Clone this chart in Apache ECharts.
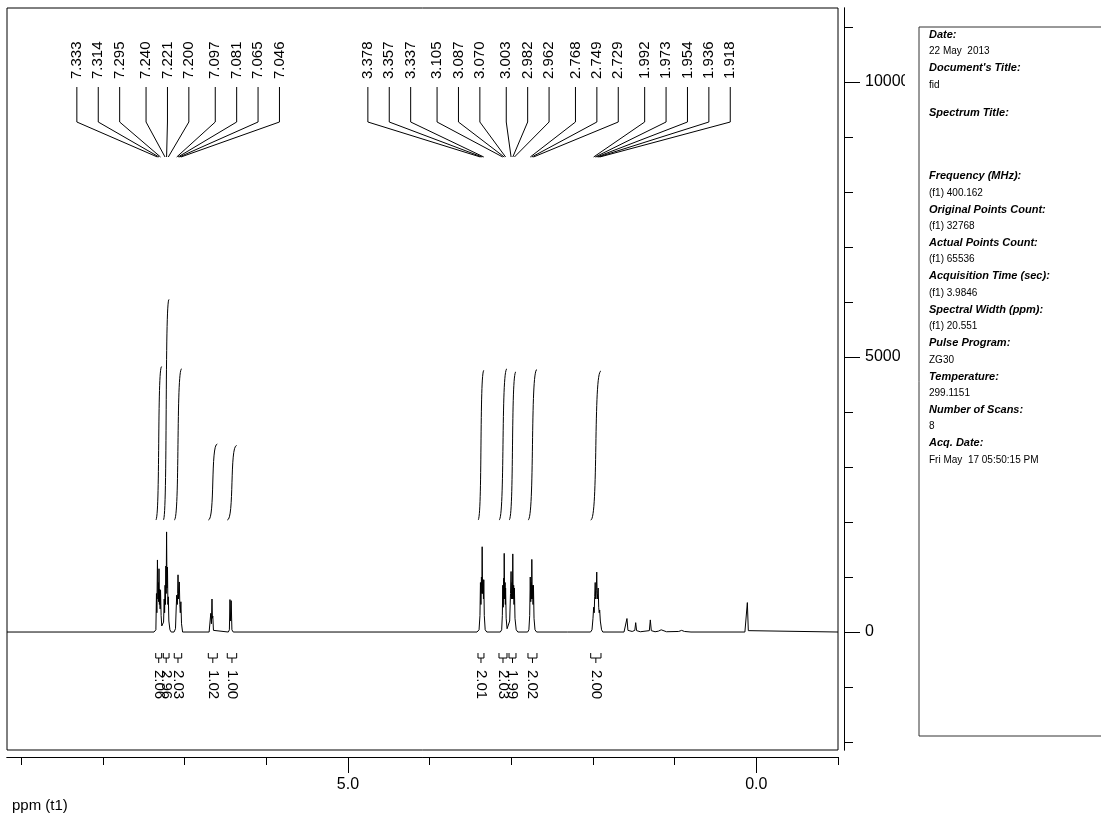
<!DOCTYPE html>
<html>
<head>
<meta charset="utf-8">
<script src="https://cdn.jsdelivr.net/npm/echarts@6/dist/echarts.min.js"></script>
<style>
  html, body { margin: 0; padding: 0; background: #fff; }
  #chart { width: 1101px; height: 816px; }
</style>
</head>
<body>
<div id="chart"></div>
<script>
// Picked peaks (ppm), one array per label fan
const aromaticPeaks = [7.333, 7.314, 7.295, 7.240, 7.221, 7.200, 7.097, 7.081, 7.065, 7.046];
const aliphaticPeaks = [3.378, 3.357, 3.337, 3.105, 3.087, 3.070, 3.003, 2.982, 2.962,
                        2.768, 2.749, 2.729, 1.992, 1.973, 1.954, 1.936, 1.918];

// Integral regions [from ppm, to ppm] and their normalised areas
const integralRanges = [
  [7.354, 7.281], [7.261, 7.191], [7.127, 7.036], [6.710, 6.600], [6.478, 6.363],
  [3.408, 3.335], [3.151, 3.053], [3.028, 2.943], [2.796, 2.686], [2.028, 1.902]
];
const integralValues = [2.06, 2.96, 2.03, 1.02, 1.00, 2.01, 2.03, 1.99, 2.02, 2.00];

// 1H trace: [ppm, intensity]
const spectrum = [
  [9.175, 0], [7.375, 0], [7.352, 40], [7.345, 700], [7.340, 350], [7.333, 1310], [7.327, 600],
  [7.322, 900], [7.318, 550], [7.314, 1150], [7.309, 500], [7.305, 780], [7.300, 420],
  [7.295, 760], [7.288, 300], [7.280, 110], [7.268, 100], [7.258, 180], [7.250, 600],
  [7.245, 350], [7.240, 850], [7.235, 500], [7.230, 1200], [7.226, 700], [7.221, 1820],
  [7.216, 800], [7.210, 1180], [7.205, 500], [7.200, 640], [7.193, 200], [7.180, 40],
  [7.165, 0], [7.130, 0], [7.112, 60], [7.104, 400], [7.097, 670], [7.090, 500],
  [7.085, 700], [7.081, 1040], [7.076, 600], [7.072, 750], [7.065, 910], [7.059, 500],
  [7.053, 350], [7.046, 550], [7.038, 150], [7.025, 0],
  [6.700, 0], [6.688, 30], [6.680, 340], [6.672, 150], [6.665, 600], [6.660, 250],
  [6.655, 290], [6.647, 30], [6.630, 0],
  [6.465, 0], [6.452, 40], [6.445, 590], [6.437, 200], [6.430, 570], [6.421, 40], [6.405, 0],
  [3.420, 0], [3.395, 40], [3.384, 300], [3.378, 900], [3.372, 500], [3.366, 1000],
  [3.361, 700], [3.357, 1550], [3.352, 700], [3.346, 950], [3.341, 600], [3.337, 950],
  [3.331, 300], [3.320, 40], [3.300, 0],
  [3.135, 0], [3.118, 40], [3.110, 300], [3.105, 850], [3.099, 450], [3.093, 980],
  [3.090, 600], [3.087, 1430], [3.082, 600], [3.076, 900], [3.073, 500], [3.070, 800],
  [3.063, 250], [3.052, 60], [3.040, 60], [3.020, 200], [3.010, 700], [3.003, 1100],
  [2.997, 600], [2.991, 900], [2.987, 600], [2.982, 1420], [2.977, 600], [2.971, 850],
  [2.967, 500], [2.962, 800], [2.955, 250], [2.940, 40], [2.920, 0],
  [2.800, 0], [2.785, 40], [2.775, 300], [2.768, 1000], [2.762, 550], [2.756, 900],
  [2.753, 600], [2.749, 1320], [2.744, 600], [2.738, 850], [2.734, 500], [2.729, 850],
  [2.722, 250], [2.710, 40], [2.690, 0],
  [2.310, 0], [2.300, 30], [2.290, 0],
  [2.030, 0], [2.012, 40], [2.000, 250], [1.992, 450], [1.985, 350], [1.979, 650],
  [1.973, 900], [1.967, 600], [1.960, 750], [1.954, 1090], [1.948, 600], [1.942, 700],
  [1.936, 800], [1.930, 450], [1.924, 350], [1.918, 400], [1.910, 200], [1.895, 40],
  [1.880, 0],
  [1.620, 0], [1.596, 25], [1.584, 245], [1.572, 30], [1.520, 10], [1.488, 30],
  [1.477, 170], [1.466, 25], [1.420, 5], [1.310, 25], [1.298, 220], [1.286, 25],
  [1.240, 5], [1.200, 15], [1.190, 50], [1.180, 20], [1.165, 40], [1.155, 10],
  [1.100, 5], [0.950, 10], [0.915, 30], [0.880, 10], [0.800, 0],
  [0.140, 0], [0.122, 25], [0.110, 535], [0.098, 25], [0.080, 0], [-1.000, 0]
];

// Axis ticks
const xMinorTicks = [-1, 0, 1, 2, 3, 4, 5, 6, 7, 8, 9];
const xMajorTicks = [5, 0];
const yMinorTicks = [-2000, -1000, 0, 1000, 2000, 3000, 4000, 5000, 6000, 7000, 8000, 9000, 10000, 11000];
const yMajorTicks = [0, 5000, 10000];

// Acquisition parameters: [heading, value]
const infoEntries = [
  ['Date:', '22 May  2013'],
  ["Document's Title:", 'fid'],
  ['Spectrum Title:', ''],
  ['Frequency (MHz):', '(f1) 400.162'],
  ['Original Points Count:', '(f1) 32768'],
  ['Actual Points Count:', '(f1) 65536'],
  ['Acquisition Time (sec):', '(f1) 3.9846'],
  ['Spectral Width (ppm):', '(f1) 20.551'],
  ['Pulse Program:', 'ZG30'],
  ['Temperature:', '299.1151'],
  ['Number of Scans:', '8'],
  ['Acq. Date:', 'Fri May  17 05:50:15 PM']
];

const FONT = '"Liberation Sans", Arial, sans-serif';
const X_MIN = -1, X_MAX = 9.175, Y_MIN = -2145, Y_MAX = 11345;
const INTEGRAL_BASE = 2036, INTEGRAL_UNIT = 1355;
// label fan layout: spacing between labels, extra space between multiplets, block shift
const LABEL_GAP = 21.4, MULTIPLET_GAP = 5, LABEL_SHIFT = 9;

// index of the integral region that holds a peak
function regionOf(p) {
  return integralRanges.findIndex(r => p <= r[0] && p >= r[1]);
}

// Build label items: [ppm, offset from block start, block width, first ppm, last ppm]
function fanItems(list) {
  const offsets = [0];
  for (let i = 1; i < list.length; i++) {
    const extra = regionOf(list[i]) !== regionOf(list[i - 1]) ? MULTIPLET_GAP : 0;
    offsets.push(offsets[i - 1] + LABEL_GAP + extra);
  }
  const width = offsets[offsets.length - 1];
  return list.map((p, i) => [p, offsets[i], width, list[0], list[list.length - 1]]);
}
const peakLabelData = fanItems(aromaticPeaks).concat(fanItems(aliphaticPeaks));
const integralData = integralRanges.map((r, i) => [r[0], r[1], integralValues[i]]);

function renderPeakLabel(params, api) {
  const ppm = api.value(0), off = api.value(1), width = api.value(2);
  const xa = api.coord([api.value(3), 0])[0];
  const xb = api.coord([api.value(4), 0])[0];
  const peakX = api.coord([ppm, 0])[0];
  const lx = (xa + xb) / 2 + LABEL_SHIFT - width / 2 + off;
  const top = params.coordSys.y;
  return {
    type: 'group',
    children: [
      { type: 'polyline',
        shape: { points: [[lx, top + 79], [lx, top + 114], [peakX, top + 149]] },
        style: { stroke: '#000', lineWidth: 1, fill: null } },
      { type: 'text', x: lx, y: top + 71, rotation: Math.PI / 2,
        style: { text: ppm.toFixed(3), font: '15px ' + FONT, fill: '#000',
                 align: 'left', verticalAlign: 'middle' } }
    ]
  };
}

function renderIntegral(params, api) {
  const from = api.value(0), to = api.value(1), val = api.value(2);
  const p0 = api.coord([from, INTEGRAL_BASE]);
  const p1 = api.coord([to, INTEGRAL_BASE + val * INTEGRAL_UNIT]);
  const w = p1[0] - p0[0];
  const y0 = api.coord([0, 0])[1];
  const cx = (p0[0] + p1[0]) / 2;
  return {
    type: 'group',
    children: [
      { type: 'bezierCurve',
        shape: { x1: p0[0], y1: p0[1], cpx1: p0[0] + w * 0.75, cpy1: p0[1],
                 cpx2: p1[0] - w * 0.75, cpy2: p1[1], x2: p1[0], y2: p1[1] },
        style: { stroke: '#000', lineWidth: 1, fill: null } },
      { type: 'polyline',
        shape: { points: [[p0[0], y0 + 21], [p0[0], y0 + 26], [p1[0], y0 + 26], [p1[0], y0 + 21]] },
        style: { stroke: '#000', lineWidth: 1, fill: null } },
      { type: 'line', shape: { x1: cx, y1: y0 + 26, x2: cx, y2: y0 + 31 },
        style: { stroke: '#000', lineWidth: 1 } },
      { type: 'text', x: cx, y: y0 + 38, rotation: -Math.PI / 2,
        style: { text: val.toFixed(2), font: '15px ' + FONT, fill: '#000',
                 align: 'left', verticalAlign: 'middle' } }
    ]
  };
}

// Parameter panel text
const infoGraphics = [];
(function () {
  const LINE = 16.7;
  const extraBefore = { 2: 11, 3: 30 };
  let y = 35;
  infoEntries.forEach((e, i) => {
    if (extraBefore[i]) y += extraBefore[i];
    infoGraphics.push({ type: 'text', x: 929, y: y,
      style: { text: e[0], font: 'italic bold 11px ' + FONT, fill: '#000', verticalAlign: 'middle' } });
    y += LINE;
    if (e[1]) {
      infoGraphics.push({ type: 'text', x: 929, y: y,
        style: { text: e[1], font: '10px ' + FONT, fill: '#000', verticalAlign: 'middle' } });
    }
    y += LINE;
  });
})();

const lineStyle = { color: '#000', width: 1 };

const chart = echarts.init(document.getElementById('chart'), null, { renderer: 'canvas' });
chart.setOption({
  animation: false,
  backgroundColor: '#fff',
  grid: { left: 7, right: 263, top: 8, bottom: 66, show: true, borderColor: '#000', borderWidth: 1 },
  xAxis: [
    { type: 'value', inverse: true, min: X_MIN, max: X_MAX, position: 'bottom', offset: 7,
      axisLine: { show: true, onZero: false, lineStyle: lineStyle }, splitLine: { show: false },
      axisTick: { show: true, length: 8, customValues: xMinorTicks, lineStyle: { color: '#000' } },
      axisLabel: { show: false } },
    { type: 'value', inverse: true, min: X_MIN, max: X_MAX, position: 'bottom', offset: 7,
      axisLine: { show: true, onZero: false, lineStyle: lineStyle }, splitLine: { show: false },
      axisTick: { show: true, length: 16, customValues: xMajorTicks, lineStyle: { color: '#000' } },
      axisLabel: { show: true, customValues: xMajorTicks, margin: 20, color: '#000',
                   fontFamily: FONT, fontSize: 16, formatter: v => v.toFixed(1) } }
  ],
  yAxis: [
    { type: 'value', min: Y_MIN, max: Y_MAX, position: 'right', offset: 6,
      axisLine: { show: true, onZero: false, lineStyle: lineStyle }, splitLine: { show: false },
      axisTick: { show: true, length: 9, customValues: yMinorTicks, lineStyle: { color: '#000' } },
      axisLabel: { show: false } },
    { type: 'value', min: Y_MIN, max: Y_MAX, position: 'right', offset: 6,
      axisLine: { show: true, onZero: false, lineStyle: lineStyle }, splitLine: { show: false },
      axisTick: { show: true, length: 16, customValues: yMajorTicks, lineStyle: { color: '#000' } },
      axisLabel: { show: true, customValues: yMajorTicks, margin: 21, color: '#000',
                   fontFamily: FONT, fontSize: 16, formatter: v => String(v) } }
  ],
  series: [
    { type: 'line', name: '1H', data: spectrum, xAxisIndex: 0, yAxisIndex: 0,
      showSymbol: false, symbol: 'none', lineStyle: { color: '#000', width: 1 } },
    { type: 'custom', name: 'integrals', data: integralData, xAxisIndex: 0, yAxisIndex: 0,
      renderItem: renderIntegral },
    { type: 'custom', name: 'peak labels', data: peakLabelData, xAxisIndex: 0, yAxisIndex: 0,
      renderItem: renderPeakLabel }
  ],
  graphic: [
    { type: 'rect', left: 905, top: 70, shape: { width: 13, height: 26 },
      style: { fill: '#fff' }, z: 100 },
    { type: 'rect', shape: { x: 919, y: 27, width: 200, height: 709 },
      style: { fill: null, stroke: '#333', lineWidth: 1 } },
    { type: 'text', x: 12, y: 806,
      style: { text: 'ppm (t1)', font: '15px ' + FONT, fill: '#000', verticalAlign: 'middle' } }
  ].concat(infoGraphics)
});
</script>
</body>
</html>
